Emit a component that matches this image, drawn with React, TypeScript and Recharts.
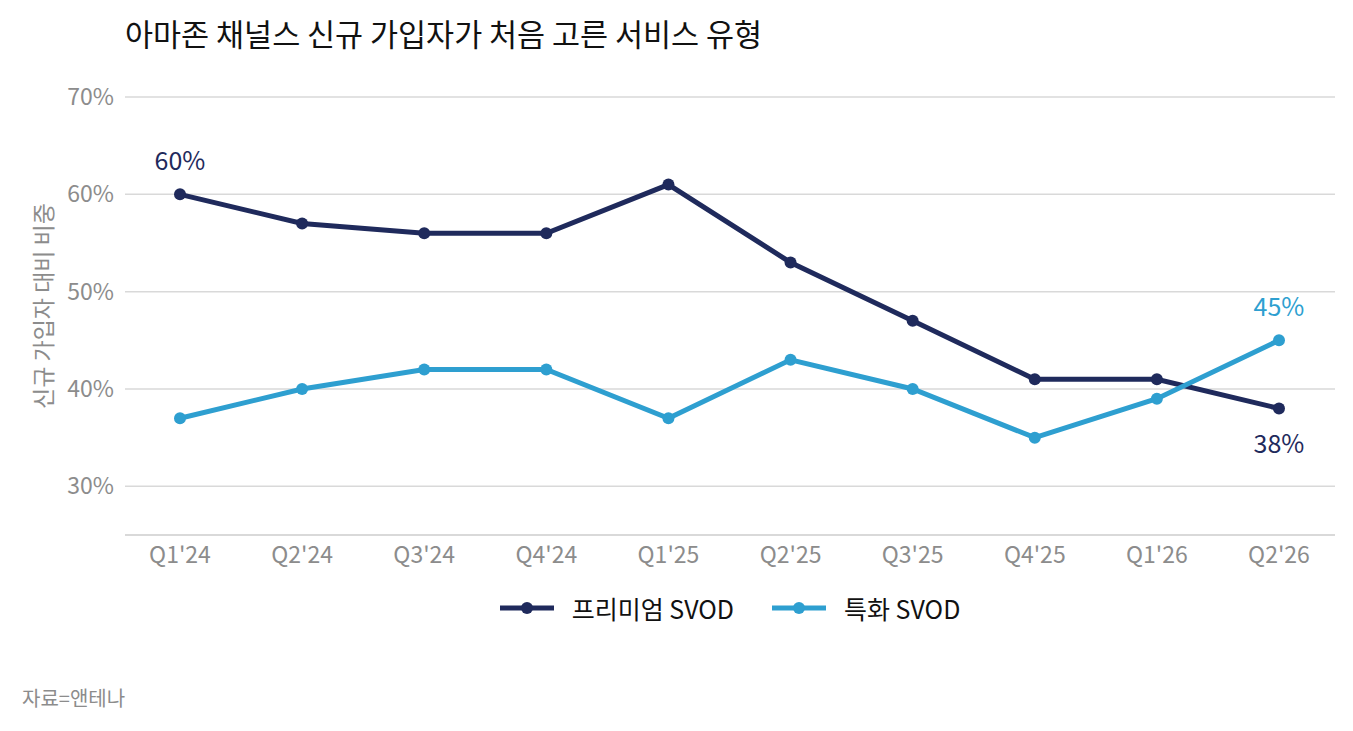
import { LineChart, Line, XAxis, YAxis, CartesianGrid, Legend, LabelList } from 'recharts';

const quarters = ["Q1'24", "Q2'24", "Q3'24", "Q4'24", "Q1'25", "Q2'25", "Q3'25", "Q4'25", "Q1'26", "Q2'26"];
const premiumSvod = [60, 57, 56, 56, 61, 53, 47, 41, 41, 38];
const specialSvod = [37, 40, 42, 42, 37, 43, 40, 35, 39, 45];
const yTicks = [30, 40, 50, 60, 70];

const NAVY = '#1f2a5c';
const BLUE = '#2e9fd0';
const GRAY = '#8c8c8c';
const FONT = '"Noto Sans CJK KR", "Noto Sans", sans-serif';

const data = quarters.map((q, i) => ({ q, premium: premiumSvod[i], special: specialSvod[i] }));
const lastIdx = quarters.length - 1;

const legendItems = [
  { name: '프리미엄 SVOD', color: NAVY },
  { name: '특화 SVOD', color: BLUE },
];

function EdgeLabel({ x, y, value, index, color, show, below }: any) {
  if (!show.includes(index)) return null;
  const isBelow = below.includes(index);
  return (
    <text
      x={x}
      y={isBelow ? y + 45 : y - 24}
      textAnchor="middle"
      fill={color}
      fontSize={25}
      fontFamily={FONT}
    >
      {value}%
    </text>
  );
}

function LegendBox() {
  return (
    <div style={{ display: 'flex', justifyContent: 'center', gap: 38, fontFamily: FONT, fontSize: 25, color: '#111' }}>
      {legendItems.map((it) => (
        <div key={it.name} style={{ display: 'flex', alignItems: 'center', gap: 18 }}>
          <svg width={54} height={14}>
            <line x1={0} y1={7} x2={54} y2={7} stroke={it.color} strokeWidth={5} />
            <circle cx={27} cy={7} r={6} fill={it.color} />
          </svg>
          <span>{it.name}</span>
        </div>
      ))}
    </div>
  );
}

export default function App() {
  return (
    <div style={{ position: 'absolute', left: 0, top: 0, width: 1353, height: 731, background: '#fff', fontFamily: FONT }}>
      <div style={{ position: 'absolute', left: 125, top: 11, fontSize: 30.5, color: '#111', lineHeight: '44px' }}>
        아마존 채널스 신규 가입자가 처음 고른 서비스 유형
      </div>
      <LineChart width={1353} height={731} data={data} margin={{ top: 97, right: 18, bottom: 126, left: 0 }}>
        <CartesianGrid vertical={false} stroke="#d9d9d9" strokeWidth={1.5} />
        <XAxis
          dataKey="q"
          tickLine={false}
          axisLine={{ stroke: '#d9d9d9', strokeWidth: 2 }}
          padding={{ left: 55, right: 56 }}
          tick={{ fill: GRAY, fontSize: 23, fontFamily: FONT }}
          tickMargin={6}
          height={30}
        />
        <YAxis
          domain={[25, 70]}
          ticks={yTicks}
          width={125}
          tickLine={false}
          axisLine={false}
          tickFormatter={(v) => `${v}%`}
          tick={{ fill: GRAY, fontSize: 23, fontFamily: FONT }}
          tickMargin={5}
          label={{
            content: ({ viewBox }: any) => (
              <text
                x={42}
                y={viewBox.y + viewBox.height / 2 - 10}
                transform={`rotate(-90, 42, ${viewBox.y + viewBox.height / 2 - 10})`}
                textAnchor="middle"
                dominantBaseline="central"
                fill={GRAY}
                fontSize={23}
                fontFamily={FONT}
              >
                신규 가입자 대비 비중
              </text>
            ),
          }}
        />
        <Legend
          verticalAlign="bottom"
          height={40}
          content={() => <LegendBox />}
          wrapperStyle={{ top: 590, bottom: 'auto', left: 125, width: 1210 }}
        />
        <Line
          dataKey="premium"
          name="프리미엄 SVOD"
          stroke={NAVY}
          strokeWidth={5}
          dot={{ r: 6, fill: NAVY, stroke: NAVY, strokeWidth: 0 }}
          activeDot={false}
          isAnimationActive={false}
        >
          <LabelList
            dataKey="premium"
            content={(p: any) => <EdgeLabel {...p} color={NAVY} show={[0, lastIdx]} below={[lastIdx]} />}
          />
        </Line>
        <Line
          dataKey="special"
          name="특화 SVOD"
          stroke={BLUE}
          strokeWidth={5}
          dot={{ r: 6, fill: BLUE, stroke: BLUE, strokeWidth: 0 }}
          activeDot={false}
          isAnimationActive={false}
        >
          <LabelList
            dataKey="special"
            content={(p: any) => <EdgeLabel {...p} color={BLUE} show={[lastIdx]} below={[]} />}
          />
        </Line>
      </LineChart>
      <div style={{ position: 'absolute', left: 22, top: 684, fontSize: 20, color: GRAY, lineHeight: '28px' }}>자료=앤테나</div>
    </div>
  );
}
